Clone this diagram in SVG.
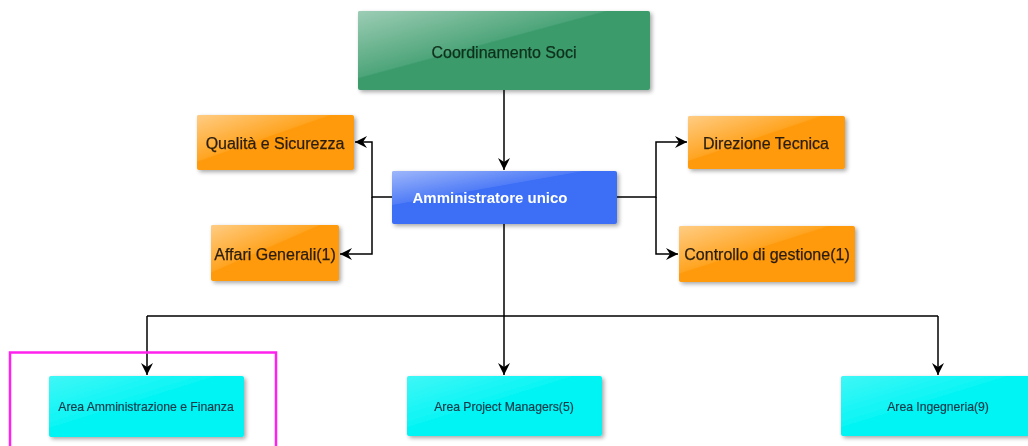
<svg xmlns="http://www.w3.org/2000/svg" width="1028" height="446" viewBox="0 0 1028 446">
<defs>
<linearGradient id="gloss" x1="0" y1="0" x2="1" y2="1">
<stop offset="0" stop-color="#fff" stop-opacity="0.5"/>
<stop offset="0.42" stop-color="#fff" stop-opacity="0.1"/>
<stop offset="0.43" stop-color="#fff" stop-opacity="0"/>
<stop offset="1" stop-color="#fff" stop-opacity="0"/>
</linearGradient>
<filter id="sh" x="-10%" y="-10%" width="125%" height="130%">
<feGaussianBlur in="SourceAlpha" stdDeviation="2"/>
<feOffset dx="2" dy="2"/>
<feComponentTransfer><feFuncA type="linear" slope="0.35"/></feComponentTransfer>
<feMerge><feMergeNode/><feMergeNode in="SourceGraphic"/></feMerge>
</filter>
<marker id="arr" viewBox="0 0 12 12" refX="12" refY="6" markerWidth="13" markerHeight="12" markerUnits="userSpaceOnUse" orient="auto">
<path d="M0,0 L12,6 L0,12 L4,6 Z" fill="#000"/>
</marker>
</defs>
<style>
.t{font-family:"Liberation Sans",Arial,sans-serif;text-anchor:middle;fill:#2a1e10;stroke:#2a1e10;stroke-width:0.25;}
.big{font-size:16px;}
.small{font-size:12.2px;fill:#1a3a4a;stroke:#1a3a4a;stroke-width:0.2;}
.c{fill:none;stroke:#000;stroke-width:1.5;}
.green{fill:#3a9b6b;}
.orange{fill:#ff9a08;}
.blue{fill:#3d6ef6;}
.cyan{fill:#00f4f4;}
</style>
<rect width="1028" height="446" fill="#fff"/>

<g id="connectors">
<path class="c" d="M504,90 V170" marker-end="url(#arr)"/>
<path class="c" d="M392,197 H372 V142 H355" marker-end="url(#arr)"/>
<path class="c" d="M372,197 V254 H340" marker-end="url(#arr)"/>
<path class="c" d="M617,197 H656 V142 H687" marker-end="url(#arr)"/>
<path class="c" d="M656,197 V254 H678" marker-end="url(#arr)"/>
<path class="c" d="M504,224 V316 M147,316 H938"/>
<path class="c" d="M147,316 V375" marker-end="url(#arr)"/>
<path class="c" d="M504,316 V375" marker-end="url(#arr)"/>
<path class="c" d="M938,316 V375" marker-end="url(#arr)"/>
</g>

<g id="coordinamento-soci" filter="url(#sh)">
<rect class="green" x="358" y="11" width="292" height="79" rx="2"/>
<rect x="358" y="11" width="292" height="79" rx="2" fill="url(#gloss)"/>
<text class="t big" x="504" y="58" style="fill:#10301c;stroke:#10301c">Coordinamento Soci</text>
</g>

<g id="amministratore-unico" filter="url(#sh)">
<rect class="blue" x="392" y="171" width="225" height="53" rx="2"/>
<rect x="392" y="171" width="225" height="40" rx="2" fill="url(#gloss)"/>
<text class="t" x="490" y="203" style="font-size:15px;font-weight:bold;fill:#fff;stroke:none">Amministratore unico</text>
</g>

<g id="qualita-sicurezza" filter="url(#sh)">
<rect class="orange" x="197" y="115" width="157" height="55" rx="2"/>
<rect x="197" y="115" width="157" height="55" rx="2" fill="url(#gloss)"/>
<text class="t big" x="275" y="149">Qualità e Sicurezza</text>
</g>

<g id="affari-generali" filter="url(#sh)">
<rect class="orange" x="211" y="225" width="128" height="56" rx="2"/>
<rect x="211" y="225" width="128" height="56" rx="2" fill="url(#gloss)"/>
<text class="t big" x="275" y="260">Affari Generali(1)</text>
</g>

<g id="direzione-tecnica" filter="url(#sh)">
<rect class="orange" x="688" y="116" width="157" height="53" rx="2"/>
<rect x="688" y="116" width="157" height="53" rx="2" fill="url(#gloss)"/>
<text class="t big" x="766" y="149">Direzione Tecnica</text>
</g>

<g id="controllo-gestione" filter="url(#sh)">
<rect class="orange" x="679" y="226" width="176" height="56" rx="2"/>
<rect x="679" y="226" width="176" height="56" rx="2" fill="url(#gloss)"/>
<text class="t big" x="767" y="260">Controllo di gestione(1)</text>
</g>

<g id="area-amministrazione" filter="url(#sh)">
<rect class="cyan" x="49" y="376" width="195" height="61" rx="2"/>
<rect x="49" y="376" width="195" height="61" rx="2" fill="url(#gloss)" opacity="0.5"/>
<text class="t small" x="146" y="411">Area Amministrazione e Finanza</text>
</g>

<g id="area-project-managers" filter="url(#sh)">
<rect class="cyan" x="407" y="376" width="195" height="60" rx="2"/>
<rect x="407" y="376" width="195" height="60" rx="2" fill="url(#gloss)" opacity="0.5"/>
<text class="t small" x="504" y="411">Area Project Managers(5)</text>
</g>

<g id="area-ingegneria" filter="url(#sh)">
<rect class="cyan" x="841" y="376" width="195" height="60" rx="2"/>
<rect x="841" y="376" width="195" height="60" rx="2" fill="url(#gloss)" opacity="0.5"/>
<text class="t small" x="938" y="411">Area Ingegneria(9)</text>
</g>

<rect id="highlight" x="10" y="352.5" width="266" height="100" fill="none" stroke="#ff22ee" stroke-width="2.5"/>
</svg>
